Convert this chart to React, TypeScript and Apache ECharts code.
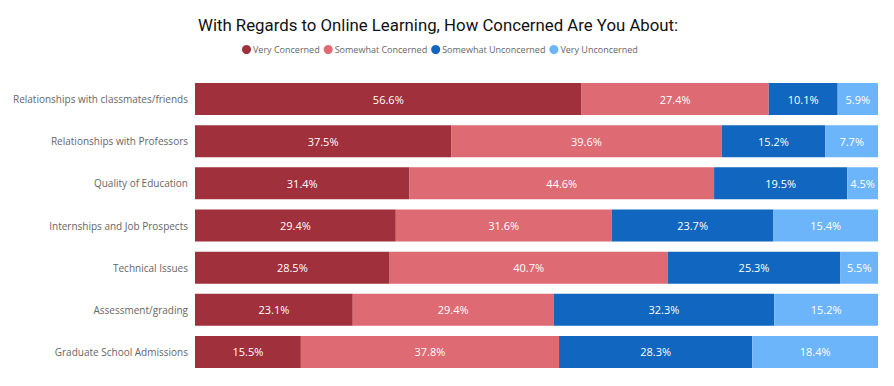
import React, { useEffect, useRef } from "react";
import * as echarts from "echarts";

const categories = [
  "Relationships with classmates/friends",
  "Relationships with Professors",
  "Quality of Education",
  "Internships and Job Prospects",
  "Technical Issues",
  "Assessment/grading",
  "Graduate School Admissions",
];
const seriesNames = ["Very Concerned", "Somewhat Concerned", "Somewhat Unconcerned", "Very Unconcerned"];
const veryConcerned = [56.6, 37.5, 31.4, 29.4, 28.5, 23.1, 15.5];
const somewhatConcerned = [27.4, 39.6, 44.6, 31.6, 40.7, 29.4, 37.8];
const somewhatUnconcerned = [10.1, 15.2, 19.5, 23.7, 25.3, 32.3, 28.3];
const veryUnconcerned = [5.9, 7.7, 4.5, 15.4, 5.5, 15.2, 18.4];
const colors = ["#A0303C", "#DE6A74", "#1167BF", "#6DB5FB"];

export default function App() {
  const ref = useRef<HTMLDivElement>(null);
  useEffect(() => {
    const chart = echarts.init(ref.current!, undefined, { renderer: "svg" });
    const data = [veryConcerned, somewhatConcerned, somewhatUnconcerned, veryUnconcerned];
    chart.setOption({
      animation: false,
      title: {
        text: "With Regards to Online Learning, How Concerned Are You About:",
        left: 193,
        top: 11,
        textStyle: { fontFamily: "Roboto", fontSize: 16.8, fontWeight: "normal", color: "#111" },
      },
      legend: {
        top: 40,
        left: 237,
        icon: "circle",
        itemWidth: 9,
        itemHeight: 9,
        itemGap: 4,
        textStyle: { fontFamily: "Open Sans", fontSize: 9, color: "#666", padding: [0, 0, 0, -3] },
        data: seriesNames,
      },
      grid: { left: 195, right: 16, top: 78, bottom: 13, containLabel: false, outerBoundsMode: "none" },
      xAxis: { type: "value", min: 0, max: 100, show: false },
      yAxis: {
        type: "category",
        data: categories,
        inverse: true,
        axisLine: { show: false },
        axisTick: { show: false },
        axisLabel: { fontFamily: "Open Sans", fontSize: 10, color: "#666", margin: 7 },
      },
      series: data.map((d, i) => ({
        name: seriesNames[i],
        type: "bar",
        stack: "total",
        data: d,
        barCategoryGap: "24%",
        itemStyle: { color: colors[i] },
        label: {
          show: true,
          position: "inside",
          formatter: (p: any) => p.value.toFixed(1) + "%",
          fontFamily: "Open Sans",
          fontSize: 11,
          color: "#fff",
        },
      })),
    });
    return () => chart.dispose();
  }, []);
  return <div ref={ref} style={{ width: 894, height: 386, position: "absolute", left: 0, top: 0 }} />;
}
